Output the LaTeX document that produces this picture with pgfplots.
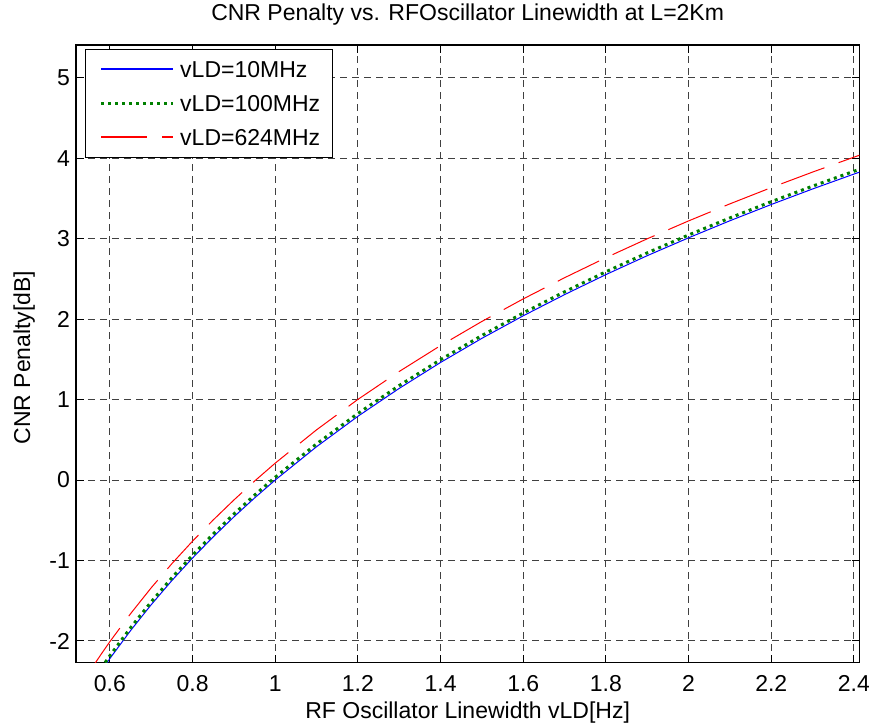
\documentclass[border=0pt]{standalone}
\usepackage{fontspec}
\setmainfont{Liberation Sans}
\usepackage{pgfplots}
\pgfplotsset{compat=1.18}
\definecolor{mgreen}{RGB}{0,128,0}
\begin{document}
\begin{tikzpicture}
\useasboundingbox (-76pt,-62.3pt) rectangle (793pt,662.7pt);
\begin{axis}[
  at={(0pt,0pt)}, anchor=south west,
  scale only axis, width=783.3pt, height=617.7pt,
  xmin=0.518, xmax=2.413, ymin=-2.27, ymax=5.406,
  font=\fontsize{23}{27}\selectfont,
  xtick={0.6,0.8,1,1.2,1.4,1.6,1.8,2,2.2,2.4},
  xticklabels={0.6,0.8,1,1.2,1.4,1.6,1.8,2,2.2,2.4},
  ytick={-2,-1,0,1,2,3,4,5},
  yticklabels={-2,-1,0,1,2,3,4,5},
  xtick pos=both, ytick pos=both,
  tick align=inside, major tick length=7.8pt,
  every tick/.style={black, line width=1pt},
  axis line style={black, line width=1.2pt},
  grid=major,
  major grid style={black!75, line width=1pt, dash pattern=on 7pt off 5pt},
  xticklabel style={inner sep=0pt, anchor=north, yshift=-12.3pt},
  yticklabel style={inner sep=0pt, anchor=east, xshift=-6pt},
  title={CNR Penalty vs. RFOscillator Linewidth at L=2Km},
  title style={at={(axis description cs:0.5,1)}, anchor=base, yshift=18pt, inner sep=0pt},
  xlabel={RF Oscillator Linewidth vLD[Hz]},
  xlabel style={at={(axis description cs:0.5,0)}, anchor=base, yshift=-55.6pt, inner sep=0pt},
  ylabel={CNR Penalty[dB]},
  ylabel style={at={(axis description cs:-0.0587,0.494)}, anchor=base, inner sep=0pt},
  legend style={at={(axis description cs:0.0115,0.9935)}, anchor=north west,
    fill=white, inner xsep=12pt, inner ysep=12pt,
    row sep=18pt,
    nodes={inner sep=0pt, text height=16pt, text depth=0pt, anchor=west}},
  legend cell align=left,
]
\addplot[blue, line width=1pt,
  legend image code/.code={\path (0pt,0pt) (80pt,0pt); \draw[blue, line width=1.6pt] (2.3pt,0pt) -- (74.3pt,0pt);}]
 table[x=x,y=y] {
x y
0.56 -2.518
0.58 -2.366
0.60 -2.218
0.65 -1.871
0.70 -1.549
0.75 -1.249
0.80 -0.969
0.85 -0.706
0.90 -0.458
0.95 -0.223
1.00 0.000
1.10 0.414
1.20 0.792
1.30 1.139
1.40 1.461
1.50 1.761
1.60 2.041
1.70 2.304
1.80 2.553
1.90 2.788
2.00 3.010
2.10 3.222
2.20 3.424
2.30 3.617
2.40 3.802
2.42 3.838
};
\addlegendentry{vLD=10MHz}
\addplot[draw=mgreen, line width=3pt, dash pattern=on 3pt off 4pt,
  legend image code/.code={\path (0pt,0pt) (80pt,0pt); \draw[draw=mgreen, line width=3pt, dash pattern=on 3pt off 4pt] (2.3pt,0pt) -- (74.3pt,0pt);}]
 table[x=x,y=y] {
x y
0.56 -2.483
0.58 -2.331
0.60 -2.183
0.65 -1.836
0.70 -1.514
0.75 -1.214
0.80 -0.934
0.85 -0.671
0.90 -0.423
0.95 -0.188
1.00 0.035
1.10 0.449
1.20 0.827
1.30 1.174
1.40 1.496
1.50 1.796
1.60 2.076
1.70 2.339
1.80 2.588
1.90 2.823
2.00 3.045
2.10 3.257
2.20 3.459
2.30 3.652
2.40 3.837
2.42 3.873
};
\addlegendentry{vLD=100MHz}
\addplot[red, line width=1pt, dash pattern=on 46pt off 15pt,
  legend image code/.code={\path (0pt,0pt) (80pt,0pt); \draw[red, line width=1.6pt, dash pattern=on 46pt off 15pt] (2.3pt,0pt) -- (74.3pt,0pt);}]
 table[x=x,y=y] {
x y
0.56 -2.308
0.58 -2.156
0.60 -2.008
0.65 -1.661
0.70 -1.339
0.75 -1.039
0.80 -0.759
0.85 -0.496
0.90 -0.248
0.95 -0.013
1.00 0.210
1.10 0.624
1.20 1.002
1.30 1.349
1.40 1.671
1.50 1.971
1.60 2.251
1.70 2.514
1.80 2.763
1.90 2.998
2.00 3.220
2.10 3.432
2.20 3.634
2.30 3.827
2.40 4.012
2.42 4.048
};
\addlegendentry{vLD=624MHz}
\end{axis}
\end{tikzpicture}
\end{document}
